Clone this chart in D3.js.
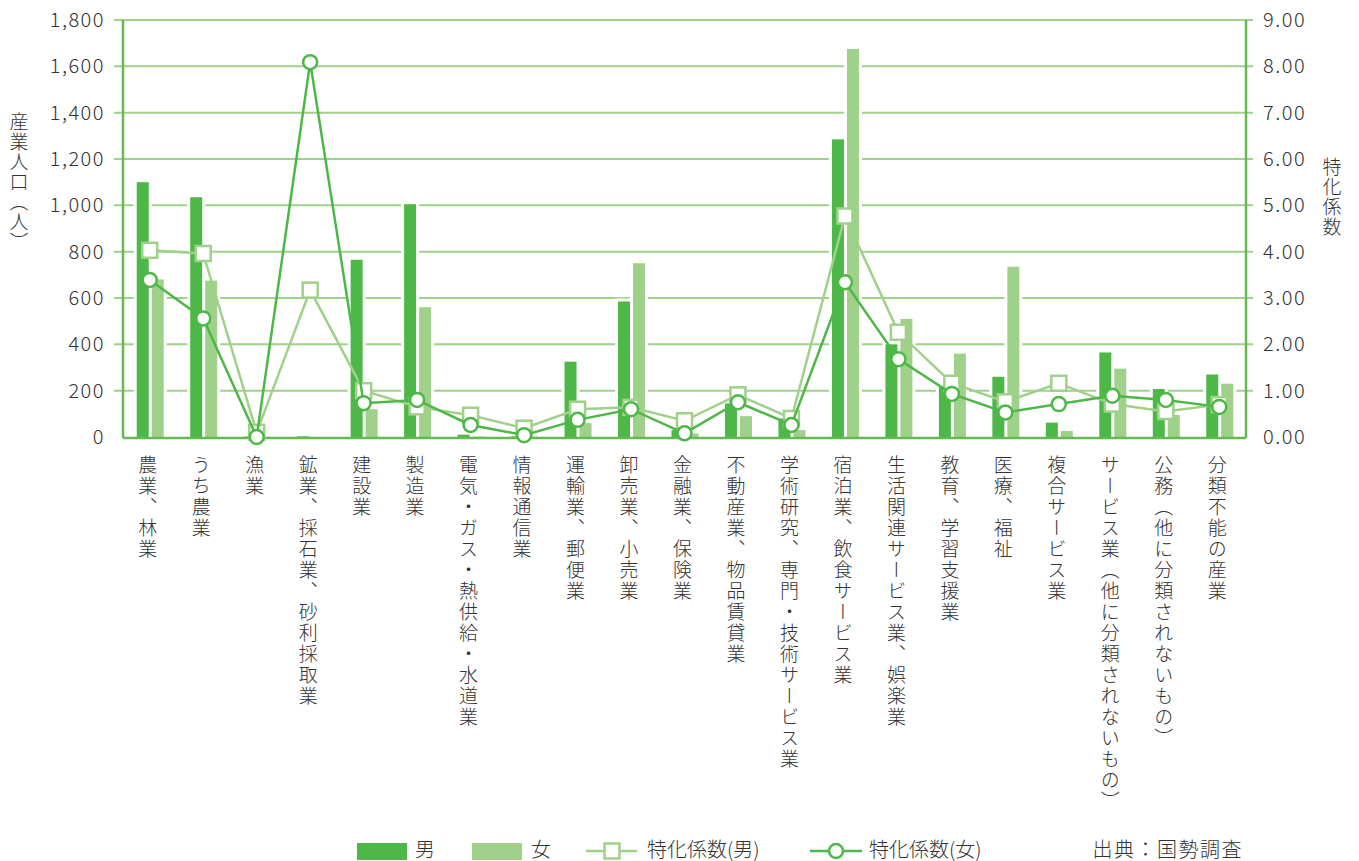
<!DOCTYPE html>
<html>
<head>
<meta charset="utf-8">
<script src="https://cdn.jsdelivr.net/npm/d3@7"></script>
<style>
  body { margin: 0; background: #fff; }
  svg text { font-family: "Noto Sans CJK JP", "Noto Sans", sans-serif; fill: #333; font-weight: 300; }
</style>
</head>
<body>
<div class="chart"></div>
<script>
// 産業別人口と特化係数
var categories = ["農業、林業", "うち農業", "漁業", "鉱業、採石業、砂利採取業", "建設業", "製造業",
  "電気・ガス・熱供給・水道業", "情報通信業", "運輸業、郵便業", "卸売業、小売業", "金融業、保険業",
  "不動産業、物品賃貸業", "学術研究、専門・技術サービス業", "宿泊業、飲食サービス業",
  "生活関連サービス業、娯楽業", "教育、学習支援業", "医療、福祉", "複合サービス業",
  "サービス業（他に分類されないもの）", "公務（他に分類されないもの）", "分類不能の産業"];
var maleValues   = [1100, 1035, 2, 3, 765, 1005, 10, 3, 325, 585, 30, 145, 80, 1285, 400, 220, 260, 62, 365, 207, 270];
var femaleValues = [680, 675, 1, 0, 120, 560, 2, 2, 60, 750, 15, 90, 30, 1675, 510, 360, 735, 26, 295, 95, 230];
var maleCoef   = [4.03, 3.96, 0.10, 3.17, 1.00, 0.65, 0.47, 0.19, 0.60, 0.64, 0.35, 0.91, 0.40, 4.77, 2.26, 1.16, 0.76, 1.16, 0.71, 0.55, 0.70];
var femaleCoef = [3.39, 2.56, 0.00, 8.09, 0.73, 0.80, 0.26, 0.04, 0.37, 0.60, 0.08, 0.75, 0.26, 3.34, 1.68, 0.93, 0.53, 0.71, 0.89, 0.80, 0.65];
var leftTicks  = [0, 200, 400, 600, 800, 1000, 1200, 1400, 1600, 1800];
var rightTicks = [0, 1, 2, 3, 4, 5, 6, 7, 8, 9];

var darkGreen = "#4db848",
    lightGreen = "#a0d18a",
    axisGreen = "#62ba50";

var width = 1359, height = 861;
var margin = { top: 20, right: 113, bottom: 424, left: 123 };

var svg = d3.select(".chart").append("svg")
  .attr("width", width)
  .attr("height", height);

var x = d3.scaleBand()
  .domain(categories)
  .range([margin.left, width - margin.right]);

var y = d3.scaleLinear()
  .domain([0, 1800])
  .range([height - margin.bottom, margin.top]);

var y2 = d3.scaleLinear()
  .domain([0, 9])
  .range([height - margin.bottom, margin.top]);

var cx = function(d, i) { return x(categories[i]) + x.bandwidth() / 2; };

// grid lines
svg.append("g")
  .selectAll("line")
  .data(leftTicks.slice(1))
  .join("line")
  .attr("x1", margin.left - 9)
  .attr("x2", width - margin.right + 7)
  .attr("y1", function(d) { return y(d); })
  .attr("y2", function(d) { return y(d); })
  .attr("stroke", lightGreen)
  .attr("stroke-width", 2);

// bars (white halo behind them cuts the grid)
var barW = 12;
var bars = svg.append("g");
function drawBars(values, offset, color) {
  bars.append("g").selectAll("rect")
    .data(values)
    .join("rect")
    .attr("x", function(d, i) { return cx(d, i) + offset - 3; })
    .attr("y", function(d) { return y(d) - 3; })
    .attr("width", barW + 6)
    .attr("height", function(d) { return y(0) - y(d) + 3; })
    .attr("fill", "#fff");
  return function() {
    bars.append("g").selectAll("rect")
      .data(values)
      .join("rect")
      .attr("x", function(d, i) { return cx(d, i) + offset; })
      .attr("y", function(d) { return y(d); })
      .attr("width", barW)
      .attr("height", function(d) { return y(0) - y(d); })
      .attr("fill", color);
  };
}
var m = drawBars(maleValues, -13, darkGreen);
var f = drawBars(femaleValues, 2, lightGreen);
m(); f();

// axes
svg.append("line")
  .attr("x1", margin.left).attr("x2", margin.left)
  .attr("y1", y(1800)).attr("y2", y(0) + 1)
  .attr("stroke", axisGreen).attr("stroke-width", 2.5);
svg.append("line")
  .attr("x1", width - margin.right).attr("x2", width - margin.right)
  .attr("y1", y(1800)).attr("y2", y(0) + 1)
  .attr("stroke", axisGreen).attr("stroke-width", 2.5);
svg.append("line")
  .attr("x1", margin.left).attr("x2", width - margin.right)
  .attr("y1", y(0) + 1).attr("y2", y(0) + 1)
  .attr("stroke", axisGreen).attr("stroke-width", 2.5);

svg.append("g").selectAll("text")
  .data(leftTicks)
  .join("text")
  .attr("x", 105)
  .attr("y", function(d) { return y(d); })
  .attr("dy", "0.35em")
  .attr("text-anchor", "end")
  .style("font-size", "20px")
  .style("letter-spacing", "1.5px")
  .text(d3.format(","));

svg.append("g").selectAll("text")
  .data(rightTicks)
  .join("text")
  .attr("x", 1263)
  .attr("y", function(d) { return y2(d); })
  .attr("dy", "0.35em")
  .style("font-size", "20px")
  .style("letter-spacing", "1.5px")
  .text(d3.format(".2f"));

// axis titles
svg.append("text")
  .attr("x", 19).attr("y", 112)
  .style("writing-mode", "vertical-rl")
  .style("font-size", "19px")
  .style("letter-spacing", "1px")
  .text("産業人口（人）");
svg.append("text")
  .attr("x", 1332).attr("y", 157)
  .style("writing-mode", "vertical-rl")
  .style("font-size", "19px")
  .style("letter-spacing", "1px")
  .text("特化係数");

// category labels
svg.append("g").selectAll("text")
  .data(categories)
  .join("text")
  .attr("x", function(d, i) { return cx(d, i) - 2; })
  .attr("y", 455)
  .style("writing-mode", "vertical-rl")
  .style("font-size", "19px")
  .style("letter-spacing", "2px")
  .text(function(d) { return d; });

// coefficient lines
var lineM = d3.line()
  .x(function(d, i) { return cx(d, i); })
  .y(function(d) { return y2(d); });

svg.append("path")
  .datum(maleCoef)
  .attr("d", lineM)
  .attr("fill", "none")
  .attr("stroke", lightGreen)
  .attr("stroke-width", 2.5);

svg.append("g").selectAll("rect")
  .data(maleCoef)
  .join("rect")
  .attr("x", function(d, i) { return cx(d, i) - 7.5; })
  .attr("y", function(d) { return y2(d) - 7.5; })
  .attr("width", 15)
  .attr("height", 15)
  .attr("fill", "#fff")
  .attr("stroke", lightGreen)
  .attr("stroke-width", 2.5);

svg.append("path")
  .datum(femaleCoef)
  .attr("d", lineM)
  .attr("fill", "none")
  .attr("stroke", darkGreen)
  .attr("stroke-width", 2.5);

svg.append("g").selectAll("circle")
  .data(femaleCoef)
  .join("circle")
  .attr("cx", function(d, i) { return cx(d, i); })
  .attr("cy", function(d) { return y2(d); })
  .attr("r", 7)
  .attr("fill", "#fff")
  .attr("stroke", darkGreen)
  .attr("stroke-width", 2.5);

// legend
var lg = svg.append("g").style("font-size", "20px");
var ly = 850;
lg.append("rect").attr("x", 357).attr("y", ly - 7).attr("width", 50).attr("height", 17).attr("fill", darkGreen);
lg.append("text").attr("x", 415).attr("y", ly).attr("dy", "0.35em").text("男");
lg.append("rect").attr("x", 472).attr("y", ly - 7).attr("width", 50).attr("height", 17).attr("fill", lightGreen);
lg.append("text").attr("x", 531).attr("y", ly).attr("dy", "0.35em").text("女");

lg.append("line").attr("x1", 586).attr("x2", 637).attr("y1", ly + 1).attr("y2", ly + 1)
  .attr("stroke", lightGreen).attr("stroke-width", 2.5);
lg.append("rect").attr("x", 604.5).attr("y", ly - 6.5).attr("width", 15).attr("height", 15)
  .attr("fill", "#fff").attr("stroke", lightGreen).attr("stroke-width", 2.5);
lg.append("text").attr("x", 647).attr("y", ly).attr("dy", "0.35em").text("特化係数(男)");

lg.append("line").attr("x1", 810).attr("x2", 862).attr("y1", ly + 1).attr("y2", ly + 1)
  .attr("stroke", darkGreen).attr("stroke-width", 2.5);
lg.append("circle").attr("cx", 836).attr("cy", ly + 1).attr("r", 7)
  .attr("fill", "#fff").attr("stroke", darkGreen).attr("stroke-width", 2.5);
lg.append("text").attr("x", 869).attr("y", ly).attr("dy", "0.35em").text("特化係数(女)");

lg.append("text").attr("x", 1243).attr("y", ly).attr("dy", "0.35em")
  .attr("text-anchor", "end")
  .style("letter-spacing", "1.5px")
  .text("出典：国勢調査");
</script>
</body>
</html>
